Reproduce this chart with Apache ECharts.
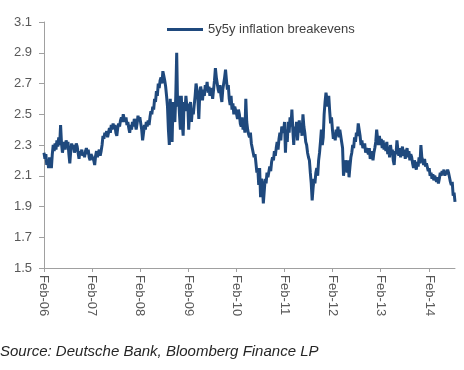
<!DOCTYPE html>
<html>
<head>
<meta charset="utf-8">
<script src="https://cdn.jsdelivr.net/npm/echarts@6/dist/echarts.min.js"></script>
<style>
html,body{margin:0;padding:0;background:#fff;}
#c{width:464px;height:370px;}
</style>
</head>
<body>
<div id="c"></div>
<script>
// Weekly 5y5y inflation breakevens (%), one array per year starting early Feb
const v2006 = [2.25,2.21,2.24,2.17,2.20,2.15,2.22,2.18,2.15,2.24,2.30,2.26,2.31,2.27,2.33,2.29,2.35,2.30,2.43,2.31,2.25,2.29,2.32,2.27,2.33,2.30,2.32,2.24,2.18,2.26,2.31,2.28,2.30,2.25,2.27,2.31,2.29,2.25,2.21,2.26,2.24,2.27,2.23,2.25,2.22,2.26,2.28,2.24,2.27,2.22,2.20,2.24];
const v2007 = [2.25,2.23,2.20,2.17,2.23,2.26,2.22,2.25,2.27,2.23,2.26,2.30,2.36,2.34,2.38,2.36,2.39,2.35,2.38,2.41,2.38,2.43,2.40,2.44,2.41,2.43,2.38,2.36,2.41,2.44,2.42,2.46,2.48,2.45,2.50,2.47,2.45,2.48,2.43,2.45,2.41,2.38,2.43,2.40,2.45,2.42,2.47,2.44,2.40,2.44,2.49,2.46];
const v2008 = [2.48,2.44,2.40,2.33,2.38,2.43,2.40,2.45,2.42,2.46,2.43,2.48,2.52,2.50,2.55,2.53,2.60,2.58,2.65,2.62,2.70,2.67,2.72,2.74,2.70,2.78,2.75,2.72,2.68,2.62,2.55,2.40,2.30,2.60,2.45,2.32,2.58,2.48,2.45,2.62,2.90,2.55,2.62,2.50,2.40,2.62,2.45,2.36,2.58,2.52,2.62,2.55];
const v2009 = [2.57,2.40,2.52,2.58,2.45,2.53,2.50,2.56,2.62,2.70,2.66,2.60,2.47,2.63,2.68,2.64,2.59,2.66,2.62,2.69,2.66,2.71,2.64,2.68,2.62,2.67,2.65,2.60,2.66,2.72,2.80,2.74,2.70,2.66,2.64,2.69,2.62,2.58,2.66,2.70,2.74,2.79,2.72,2.66,2.69,2.60,2.56,2.62,2.53,2.57,2.50,2.55];
const v2010 = [2.55,2.50,2.47,2.53,2.50,2.44,2.42,2.48,2.40,2.44,2.38,2.60,2.45,2.40,2.37,2.35,2.38,2.31,2.30,2.25,2.22,2.24,2.18,2.12,2.15,2.04,2.15,1.96,2.08,2.04,1.92,2.00,2.08,2.05,2.12,2.09,2.10,2.16,2.13,2.19,2.22,2.20,2.26,2.23,2.28,2.32,2.27,2.34,2.38,2.33,2.42,2.40];
const v2011 = [2.38,2.45,2.25,2.40,2.32,2.45,2.38,2.48,2.42,2.53,2.40,2.30,2.42,2.36,2.45,2.33,2.40,2.46,2.38,2.44,2.36,2.50,2.42,2.38,2.32,2.30,2.25,2.22,2.20,2.12,2.05,1.94,2.02,2.08,2.05,2.12,2.15,2.10,2.20,2.25,2.32,2.40,2.30,2.35,2.50,2.58,2.64,2.60,2.55,2.62,2.52,2.44];
const v2012 = [2.48,2.40,2.34,2.38,2.33,2.40,2.36,2.42,2.35,2.40,2.36,2.32,2.28,2.10,2.15,2.20,2.17,2.12,2.20,2.09,2.16,2.22,2.25,2.30,2.28,2.35,2.32,2.38,2.36,2.44,2.40,2.36,2.30,2.33,2.28,2.27,2.31,2.25,2.28,2.26,2.24,2.28,2.21,2.22,2.26,2.20,2.25,2.28,2.32,2.40,2.34,2.30];
const v2013 = [2.36,2.30,2.34,2.28,2.33,2.27,2.31,2.26,2.32,2.24,2.29,2.22,2.30,2.25,2.27,2.20,2.17,2.26,2.24,2.33,2.27,2.23,2.28,2.22,2.26,2.29,2.23,2.27,2.21,2.25,2.28,2.22,2.26,2.20,2.24,2.22,2.18,2.15,2.20,2.17,2.14,2.19,2.16,2.22,2.18,2.30,2.22,2.20,2.17,2.21,2.16,2.18];
const v2014 = [2.17,2.13,2.15,2.10,2.12,2.08,2.11,2.07,2.10,2.08,2.06,2.09,2.05,2.08,2.12,2.10,2.13,2.11,2.14,2.10,2.13,2.11,2.14,2.12,2.09,2.06,2.04,2.06,1.97,1.99,1.93];

const tickLabels = ['Feb-06','Feb-07','Feb-08','Feb-09','Feb-10','Feb-11','Feb-12','Feb-13','Feb-14'];
const seriesName = '5y5y inflation breakevens';
const sourceText = 'Source: Deutsche Bank, Bloomberg Finance LP';

const values = [].concat(v2006, v2007, v2008, v2009, v2010, v2011, v2012, v2013, v2014);

// weekly dates starting 3 Feb 2006
const dates = [];
const start = Date.UTC(2006, 1, 3);
for (let i = 0; i < values.length; i++) {
  const d = new Date(start + i * 7 * 86400000);
  dates.push(d.toISOString().slice(0, 10));
}
function isFebTick(index) {
  const s = dates[index];
  return s && s.slice(5, 7) === '02' && parseInt(s.slice(8, 10), 10) <= 7;
}

const chart = echarts.init(document.getElementById('c'), null, {renderer: 'canvas'});
const grey = '#595959';
chart.setOption({
  animation: false,
  textStyle: {fontFamily: 'Liberation Sans, Arial, sans-serif'},
  grid: {left: 44, right: 9, top: 22, bottom: 102, containLabel: false},
  legend: {
    data: [seriesName],
    left: 167, top: 23, padding: 0,
    icon: 'rect', itemWidth: 36, itemHeight: 3, itemGap: 5,
    textStyle: {fontSize: 13, color: '#404040', fontFamily: 'Liberation Sans, Arial, sans-serif'}
  },
  xAxis: {
    type: 'category',
    data: dates,
    boundaryGap: false,
    axisLine: {lineStyle: {color: '#a0a0a0', width: 1}},
    axisTick: {show: true, length: 4, interval: (i) => isFebTick(i), lineStyle: {color: '#a0a0a0'}},
    axisLabel: {
      interval: (i) => isFebTick(i),
      rotate: -90,
      margin: 7,
      fontSize: 13,
      color: grey,
      formatter: (v) => tickLabels[parseInt(v.slice(0, 4), 10) - 2006]
    },
    splitLine: {show: false}
  },
  yAxis: {
    type: 'value',
    min: 1.5, max: 3.1, interval: 0.2,
    axisLine: {show: true, lineStyle: {color: '#a0a0a0', width: 1}},
    axisTick: {show: true, length: 5, lineStyle: {color: '#a0a0a0'}},
    axisLabel: {margin: 12, fontSize: 13, color: grey, formatter: (v) => v.toFixed(1)},
    splitLine: {show: false}
  },
  series: [{
    name: seriesName,
    type: 'line',
    data: values,
    showSymbol: false,
    symbol: 'none',
    sampling: null,
    lineStyle: {color: '#1F497D', width: 3},
    itemStyle: {color: '#1F497D'}
  }],
  graphic: [{
    type: 'text', left: 0, top: 344,
    style: {text: sourceText, font: 'italic 15px "Liberation Sans", Arial, sans-serif', fill: '#262626'}
  }]
});
</script>
</body>
</html>
